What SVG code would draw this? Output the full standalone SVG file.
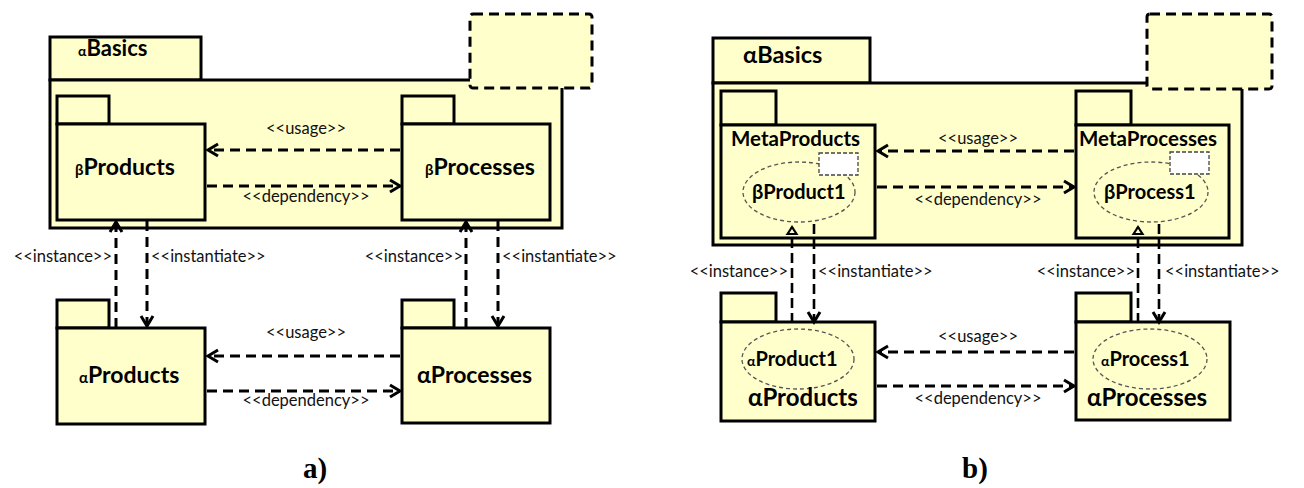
<svg xmlns="http://www.w3.org/2000/svg" width="1304" height="488" viewBox="0 0 1304 488">
<style>
.pk{fill:#FFFFCC;stroke:#000;stroke-width:3}
.dbox{fill:#FFFFCC;stroke:#000;stroke-width:3;stroke-dasharray:10 6}
.wb{fill:#fff;stroke:#444;stroke-width:1.3;stroke-dasharray:4 2}
.el{fill:none;stroke:#555;stroke-width:1.3;stroke-dasharray:4 3}
.t{font-family:Lato,"Open Sans","Liberation Sans",sans-serif;fill:#000}
.b{font-weight:bold}
.lb{font-family:Lato,"Open Sans","Liberation Sans",sans-serif;font-size:16.5px;fill:#111}
.c{fill:none;stroke:#000;stroke-width:3;stroke-dasharray:10 6}
.cv{fill:none;stroke:#000;stroke-width:2.6;stroke-dasharray:10 5}
.cap{font-family:"Liberation Serif",serif;font-weight:bold;font-size:29px;fill:#000}
</style>
<defs>
<marker id="arr" markerUnits="userSpaceOnUse" markerWidth="16" markerHeight="16" refX="13" refY="8" orient="auto" overflow="visible">
<path d="M3,2 L13,8 L3,14" fill="none" stroke="#000" stroke-width="3"/>
</marker>
<marker id="tri" markerUnits="userSpaceOnUse" markerWidth="12" markerHeight="12" refX="9" refY="6" orient="auto" overflow="visible">
<path d="M2,1.5 L9,6 L2,10.5 Z" fill="#FFFFCC" stroke="#000" stroke-width="2.2"/>
</marker>
</defs>

<!-- Panel a -->
<g id="a-basics">
<rect class="pk" x="50" y="37" width="151" height="43"/>
<rect class="pk" x="50" y="80" width="512" height="148"/>
<rect class="dbox" x="470" y="14" width="122" height="74" rx="3"/>
<text class="t b" x="78" y="56" font-size="22"><tspan font-size="14">α</tspan>Basics</text>
</g>
<g id="a-betaProducts">
<rect class="pk" x="57" y="96" width="52" height="28"/>
<rect class="pk" x="57" y="124" width="148" height="96"/>
<text class="t b" x="75" y="175" font-size="23"><tspan font-size="15">β</tspan>Products</text>
</g>
<g id="a-betaProcesses">
<rect class="pk" x="402" y="96" width="52" height="28"/>
<rect class="pk" x="402" y="124" width="148" height="96"/>
<text class="t b" x="425" y="175" font-size="23"><tspan font-size="15">β</tspan>Processes</text>
</g>
<g id="a-alphaProducts">
<rect class="pk" x="57" y="300" width="52" height="28"/>
<rect class="pk" x="57" y="328" width="148" height="96"/>
<text class="t b" x="79" y="383" font-size="23"><tspan font-size="15">α</tspan>Products</text>
</g>
<g id="a-alphaProcesses">
<rect class="pk" x="402" y="300" width="52" height="28"/>
<rect class="pk" x="402" y="328" width="148" height="95"/>
<text class="t b" x="417" y="383" font-size="23">αProcesses</text>
</g>

<!-- Panel b -->
<g id="b-basics">
<rect class="pk" x="713" y="38" width="157" height="45"/>
<rect class="pk" x="713" y="83" width="529" height="162"/>
<rect class="dbox" x="1147" y="14" width="125" height="75" rx="3"/>
<text class="t b" x="743" y="63" font-size="23.5">αBasics</text>
</g>
<g id="b-metaProducts">
<rect class="pk" x="721" y="91" width="55" height="34"/>
<rect class="pk" x="721" y="125" width="154" height="113"/>
<text class="t b" x="731" y="146" font-size="20.5">MetaProducts</text>
<ellipse class="el" cx="799" cy="192" rx="56" ry="30"/>
<rect class="wb" x="819" y="153" width="39" height="22"/>
<text class="t b" x="752" y="199" font-size="20">βProduct1</text>
</g>
<g id="b-metaProcesses">
<rect class="pk" x="1076" y="91" width="55" height="34"/>
<rect class="pk" x="1076" y="125" width="153" height="113"/>
<text class="t b" x="1079" y="146" font-size="20.5">MetaProcesses</text>
<ellipse class="el" cx="1151" cy="192" rx="57" ry="30"/>
<rect class="wb" x="1170" y="152" width="39" height="22"/>
<text class="t b" x="1104" y="199" font-size="20">βProcess1</text>
</g>
<g id="b-alphaProducts">
<rect class="pk" x="721" y="293" width="55" height="29"/>
<rect class="pk" x="721" y="322" width="154" height="99"/>
<ellipse class="el" cx="798" cy="359" rx="56" ry="30"/>
<text class="t b" x="747" y="366" font-size="20"><tspan font-size="14">α</tspan>Product1</text>
<text class="t b" x="748" y="406" font-size="24">αProducts</text>
</g>
<g id="b-alphaProcesses">
<rect class="pk" x="1076" y="293" width="55" height="29"/>
<rect class="pk" x="1076" y="322" width="154" height="98"/>
<ellipse class="el" cx="1150" cy="359" rx="57" ry="30"/>
<text class="t b" x="1101" y="366" font-size="20"><tspan font-size="14">α</tspan>Process1</text>
<text class="t b" x="1087" y="406" font-size="24">αProcesses</text>
</g>

<g id="connectors">
<!-- panel a -->
<path class="c" d="M400,150 H208" marker-end="url(#arr)"/>
<path class="c" d="M207,186 H400" marker-end="url(#arr)"/>
<path class="c" d="M400,356 H208" marker-end="url(#arr)"/>
<path class="c" d="M207,391 H400" marker-end="url(#arr)"/>
<path class="c" d="M116,328 V222" marker-end="url(#arr)"/>
<path class="c" d="M147,221 V326" marker-end="url(#arr)"/>
<path class="c" d="M466,328 V222" marker-end="url(#arr)"/>
<path class="c" d="M498,221 V326" marker-end="url(#arr)"/>
<!-- panel b -->
<path class="c" d="M1074,151 H878" marker-end="url(#arr)"/>
<path class="c" d="M877,187 H1074" marker-end="url(#arr)"/>
<path class="c" d="M1074,352 H878" marker-end="url(#arr)"/>
<path class="c" d="M877,386 H1074" marker-end="url(#arr)"/>
<path class="cv" d="M792,323 V227" marker-end="url(#tri)"/>
<path class="cv" d="M814,224 V322" marker-end="url(#arr)"/>
<path class="cv" d="M1138,323 V227" marker-end="url(#tri)"/>
<path class="cv" d="M1159,224 V322" marker-end="url(#arr)"/>
</g>

<g id="labels">
<text class="lb" x="306" y="134" text-anchor="middle">&lt;&lt;usage&gt;&gt;</text>
<text class="lb" x="306" y="202" text-anchor="middle">&lt;&lt;dependency&gt;&gt;</text>
<text class="lb" x="306" y="338" text-anchor="middle">&lt;&lt;usage&gt;&gt;</text>
<text class="lb" x="306" y="406" text-anchor="middle">&lt;&lt;dependency&gt;&gt;</text>
<text class="lb" x="112" y="262" text-anchor="end">&lt;&lt;instance&gt;&gt;</text>
<text class="lb" x="151" y="262">&lt;&lt;instantiate&gt;&gt;</text>
<text class="lb" x="463" y="262" text-anchor="end">&lt;&lt;instance&gt;&gt;</text>
<text class="lb" x="502" y="262">&lt;&lt;instantiate&gt;&gt;</text>
<text class="lb" x="978" y="144" text-anchor="middle">&lt;&lt;usage&gt;&gt;</text>
<text class="lb" x="978" y="205" text-anchor="middle">&lt;&lt;dependency&gt;&gt;</text>
<text class="lb" x="978" y="342" text-anchor="middle">&lt;&lt;usage&gt;&gt;</text>
<text class="lb" x="978" y="404" text-anchor="middle">&lt;&lt;dependency&gt;&gt;</text>
<text class="lb" x="788" y="277" text-anchor="end">&lt;&lt;instance&gt;&gt;</text>
<text class="lb" x="818" y="277">&lt;&lt;instantiate&gt;&gt;</text>
<text class="lb" x="1135" y="277" text-anchor="end">&lt;&lt;instance&gt;&gt;</text>
<text class="lb" x="1165" y="277">&lt;&lt;instantiate&gt;&gt;</text>
</g>

<text class="cap" x="315" y="478" text-anchor="middle">a)</text>
<text class="cap" x="975" y="478" text-anchor="middle">b)</text>
</svg>
